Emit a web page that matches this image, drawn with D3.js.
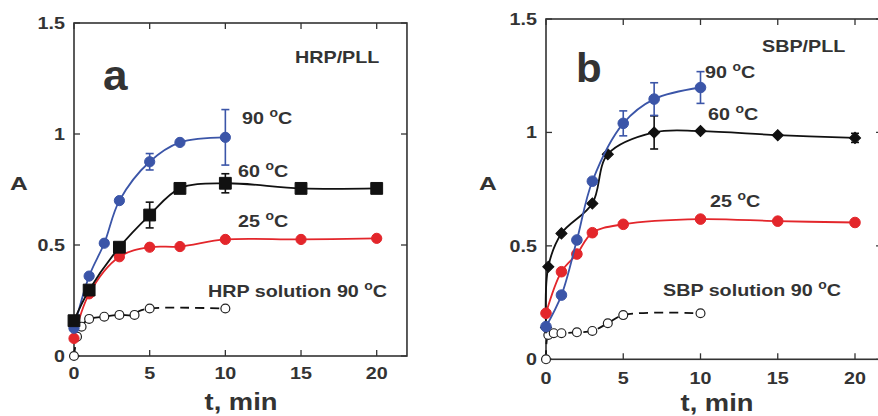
<!DOCTYPE html>
<html><head><meta charset="utf-8">
<script src="https://cdn.jsdelivr.net/npm/d3@7"></script>
<style>body{margin:0;background:#fff}svg{display:block}</style>
</head><body>
<svg id="c" width="878" height="416"></svg>
<script>
// ---------- DATA ----------
// Panel a : HRP/PLL
const a90_t = [0, 1, 2, 3, 5, 7, 10];
const a90_A = [0.125, 0.36, 0.508, 0.70, 0.875, 0.962, 0.985];
const a90_err = [0, 0, 0, 0, 0.037, 0, 0.125];
const a60_t = [0, 1, 3, 5, 7, 10, 15, 20];
const a60_A = [0.159, 0.297, 0.49, 0.635, 0.755, 0.778, 0.755, 0.755];
const a60_err = [0, 0, 0, 0.058, 0, 0.043, 0, 0];
const a25_t = [0, 1, 3, 5, 7, 10, 15, 20];
const a25_A = [0.079, 0.28, 0.447, 0.49, 0.493, 0.525, 0.525, 0.53];
const aSol_t = [0, 0.2, 0.5, 1, 2, 3, 4, 5, 10];
const aSol_A = [0, 0.087, 0.132, 0.167, 0.177, 0.185, 0.185, 0.214, 0.214];
// Panel b : SBP/PLL
const b90_t = [0, 1, 2, 3, 5, 7, 10];
const b90_A = [0.144, 0.283, 0.526, 0.785, 1.04, 1.147, 1.198];
const b90_err = [0, 0, 0, 0, 0.055, 0.072, 0.07];
const b60_t = [0, 0.15, 1, 3, 4, 7, 10, 15, 20];
const b60_A = [0.14, 0.408, 0.555, 0.687, 0.904, 1.0, 1.006, 0.988, 0.976];
const b60_err = [0, 0, 0, 0, 0, 0.073, 0, 0, 0.02];
const b25_t = [0, 1, 2, 3, 5, 10, 15, 20];
const b25_A = [0.203, 0.386, 0.464, 0.558, 0.595, 0.618, 0.609, 0.603];
const bSol_t = [0, 0.15, 0.5, 1, 2, 3, 4, 5, 10];
const bSol_A = [0, 0.107, 0.115, 0.115, 0.119, 0.125, 0.159, 0.195, 0.203];

const xTicks = [0, 5, 10, 15, 20];
const xTickLabels = ["0", "5", "10", "15", "20"];
const yTicks = [0, 0.5, 1, 1.5];
const yTickLabels = ["0", "0.5", "1", "1.5"];

// ---------- STYLE ----------
const BLUE = "#3b55a8", RED = "#e3262b", BLACK = "#111", TXT = "#333";
const SX = 1.16;
const svg = d3.select("#c");
svg.append("rect").attr("width", 878).attr("height", 416).attr("fill", "#fff");

function zip(t, A, e) { return t.map((d, i) => ({t: d, A: A[i], e: e ? e[i] : 0})); }

function txt(g, x, y, s, size, anchor, sx) {
  return g.append("text")
    .attr("transform", `translate(${x},${y}) scale(${sx || SX},1)`)
    .attr("text-anchor", anchor || "start")
    .attr("font-family", "Liberation Sans, Arial, sans-serif")
    .attr("font-weight", "bold").attr("font-size", size).attr("fill", TXT).text(s);
}
function degLabel(g, x, y, num, pre) {
  const t = g.append("text")
    .attr("transform", `translate(${x},${y}) scale(${SX},1)`)
    .attr("font-family", "Liberation Sans, Arial, sans-serif")
    .attr("font-weight", "bold").attr("font-size", 17).attr("fill", TXT);
  t.append("tspan").text((pre || "") + num + " ");
  t.append("tspan").attr("font-size", 12).attr("dy", -7).text("o");
  t.append("tspan").attr("dy", 7).text("C");
}

function panel(cfg) {
  const g = svg.append("g");
  const x = d3.scaleLinear().domain([0, 20]).range(cfg.xr);
  const y = d3.scaleLinear().domain([0, 1.5]).range(cfg.yr);
  const x0 = x(0), x1 = x(cfg.xmax), y0 = y(0), y1 = y(1.5);
  const tk = 6;
  const ax = g.append("g").attr("stroke", "#333").attr("stroke-width", 1.3);
  xTicks.forEach(v => {
    ax.append("line").attr("x1", x(v)).attr("x2", x(v)).attr("y1", y0).attr("y2", y0 - tk);
    ax.append("line").attr("x1", x(v)).attr("x2", x(v)).attr("y1", y1).attr("y2", y1 + tk);
  });
  yTicks.forEach(v => {
    ax.append("line").attr("x1", x0).attr("x2", x0 + tk).attr("y1", y(v)).attr("y2", y(v));
    ax.append("line").attr("x1", x1).attr("x2", x1 - tk).attr("y1", y(v)).attr("y2", y(v));
  });
  g.append("rect").attr("x", x0).attr("y", y1).attr("width", x1 - x0).attr("height", y0 - y1)
    .attr("fill", "none").attr("stroke", "#333").attr("stroke-width", 1.6);
  xTicks.forEach((v, i) => txt(g, x(v), y0 + cfg.xlabOff, xTickLabels[i], 17, "middle"));
  yTicks.forEach((v, i) => txt(g, x0 - 9, y(v) + 6, yTickLabels[i], 17, "end"));
  txt(g, cfg.Ax, 190, "A", 19, "middle", 1.3);
  txt(g, cfg.tx, cfg.ty, "t, min", 24, "middle", 1.14);

  const line = c => d3.line().x(d => x(d.t)).y(d => y(d.A)).curve(c || d3.curveCatmullRom.alpha(0.5));

  function series(data, color, shape, open, dashed, curve) {
    const s = g.append("g");
    s.append("path").datum(data).attr("d", line(curve)(data)).attr("fill", "none")
      .attr("stroke", color).attr("stroke-width", 1.8)
      .attr("stroke-dasharray", dashed ? "9,6" : null);
    data.filter(d => d.e > 0).forEach(d => {
      s.append("line").attr("x1", x(d.t)).attr("x2", x(d.t)).attr("y1", y(d.A - d.e)).attr("y2", y(d.A + d.e))
        .attr("stroke", color).attr("stroke-width", 1.6);
      [d.A - d.e, d.A + d.e].forEach(v => s.append("line").attr("x1", x(d.t) - 4).attr("x2", x(d.t) + 4)
        .attr("y1", y(v)).attr("y2", y(v)).attr("stroke", color).attr("stroke-width", 1.6));
    });
    const sym = d3.symbol().type(shape.type).size(shape.size);
    s.selectAll(null).data(data).join("path")
      .attr("d", sym)
      .attr("transform", d => `translate(${x(d.t)},${y(d.A)})${shape.rot ? " rotate(45)" : ""}`)
      .attr("fill", open ? "#fff" : color).attr("stroke", open ? "#222" : color).attr("stroke-width", open ? 1.2 : 1);
  }
  cfg.draw(series);
  return {g, x, y};
}

// Panel a
const pa = panel({
  xr: [74, 376.7], yr: [356, 23], xmax: 22, xlabOff: 23, Ax: 19, tx: 241, ty: 410,
  draw: s => {
    s(zip(aSol_t, aSol_A), BLACK, {type: d3.symbolCircle, size: 62}, true, true, d3.curveNatural);
    s(zip(a25_t, a25_A), RED, {type: d3.symbolCircle, size: 82});
    s(zip(a90_t, a90_A, a90_err), BLUE, {type: d3.symbolCircle, size: 82});
    s(zip(a60_t, a60_A, a60_err), BLACK, {type: d3.symbolSquare, size: 140});
  }
});
txt(pa.g, 295, 63, "HRP/PLL", 17, "start");
txt(pa.g, 103, 90, "a", 42, "start", 1.05);
degLabel(pa.g, 242, 124, "90");
degLabel(pa.g, 238, 177, "60");
degLabel(pa.g, 238, 227, "25");
degLabel(pa.g, 208, 297, "90", "HRP solution ");

// Panel b
const pb = panel({
  xr: [546, 855], yr: [359.3, 19], xmax: 21.75, xlabOff: 25, Ax: 488, tx: 717, ty: 411,
  draw: s => {
    s(zip(bSol_t, bSol_A), BLACK, {type: d3.symbolCircle, size: 62}, true, true);
    s(zip(b60_t, b60_A, b60_err), BLACK, {type: d3.symbolSquare, size: 62, rot: true});
    s(zip(b25_t, b25_A), RED, {type: d3.symbolCircle, size: 88});
    s(zip(b90_t, b90_A, b90_err), BLUE, {type: d3.symbolCircle, size: 88});
  }
});
txt(pb.g, 762, 52, "SBP/PLL", 17, "start");
txt(pb.g, 576, 82, "b", 40, "start", 1.05);
degLabel(pb.g, 705, 78, "90");
degLabel(pb.g, 708, 120, "60");
degLabel(pb.g, 710, 207, "25");
degLabel(pb.g, 663, 296, "90", "SBP solution ");
</script>
</body></html>
